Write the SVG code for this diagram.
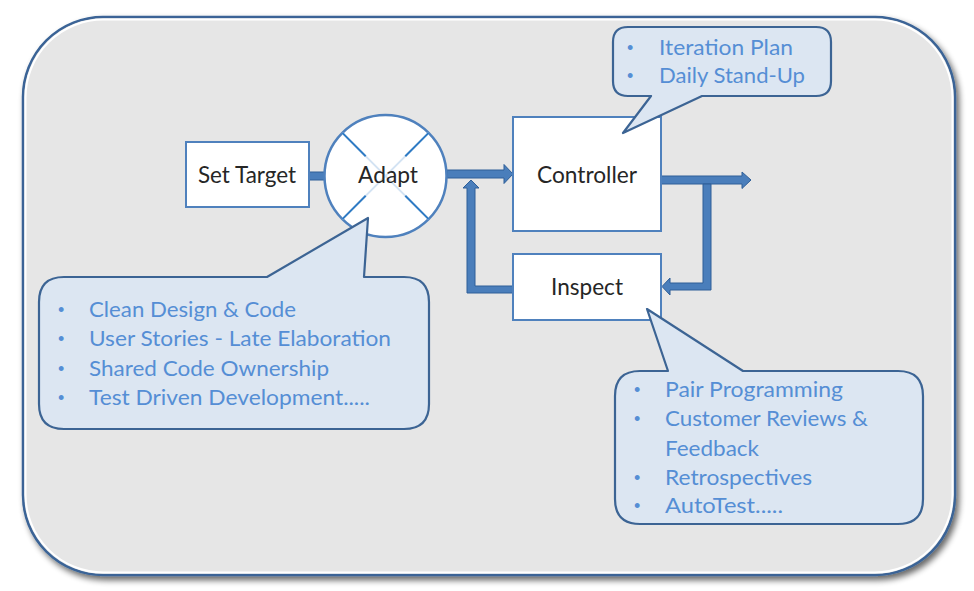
<svg xmlns="http://www.w3.org/2000/svg" width="974" height="591" viewBox="0 0 974 591">
<style>
.box{fill:#ffffff;stroke:#4f81bd;stroke-width:2}
.lbl{font-family:Lato,"Open Sans","Liberation Sans",sans-serif;font-size:23px;fill:#262626}
.call{fill:#dce6f2;stroke:#3c6494;stroke-width:2.2;stroke-linejoin:round}
.ct{font-family:Lato,"Open Sans","Liberation Sans",sans-serif;font-size:22px;fill:#558ed5}
.bl{font-family:"Liberation Sans",sans-serif;font-size:18px;fill:#558ed5}
.arr{fill:#4a7ebb;stroke:#2f5f98;stroke-width:1;stroke-linejoin:miter}
</style>
<defs>
<filter id="sh" x="-5%" y="-5%" width="110%" height="115%">
<feGaussianBlur in="SourceAlpha" stdDeviation="3"/>
<feOffset dx="3" dy="4"/>
<feComponentTransfer><feFuncA type="linear" slope="0.6"/></feComponentTransfer>
<feMerge><feMergeNode/><feMergeNode in="SourceGraphic"/></feMerge>
</filter>
</defs>
<rect width="974" height="591" fill="#ffffff"/>
<g id="background">
<rect x="23" y="17" width="932" height="558" rx="80" ry="80" fill="#e6e6e6" stroke="#3a6496" stroke-width="2.5" filter="url(#sh)"/>
<rect x="25.5" y="19.5" width="927" height="553" rx="78" ry="78" fill="none" stroke="#ffffff" stroke-width="2"/>
</g>
<g id="connectors">
<path class="arr" d="M309,172 H326 V180 H309 Z"/>
<path class="arr" d="M447,170 H504 V164.5 L513,174 L504,183.5 V178 H447 Z"/>
<path class="arr" d="M661,176 H742 V172 L751,180 L742,188.5 V184 H661 Z"/>
<path class="arr" d="M703,184 H711 V290 H670 V295 L662,286.5 L670,278 V283 H703 Z"/>
<path class="arr" d="M513,286 V293 H467 V188 H463 L471,180 L479,188 H475 V286 Z"/>
</g>
<g id="set-target">
<rect class="box" x="186" y="142" width="123" height="65"/>
<text class="lbl" x="198" y="183" textLength="98" lengthAdjust="spacingAndGlyphs">Set Target</text>
</g>
<g id="adapt">
<circle cx="385.5" cy="176" r="61" fill="#ffffff" stroke="#4f81bd" stroke-width="2.5"/>
<path d="M342.4,132.9 L428.6,219.1 M428.6,132.9 L342.4,219.1" stroke="#d3e3f3" stroke-width="2"/>
<path d="M342.4,132.9 L365.7,156.2 M428.6,132.9 L405.3,156.2 M342.4,219.1 L365.7,195.8 M428.6,219.1 L405.3,195.8" stroke="#2f7bc4" stroke-width="2"/>
<text class="lbl" x="358" y="183" textLength="60" lengthAdjust="spacingAndGlyphs">Adapt</text>
</g>
<g id="controller">
<rect class="box" x="513" y="117" width="148" height="114"/>
<text class="lbl" x="537" y="183" textLength="100" lengthAdjust="spacingAndGlyphs">Controller</text>
</g>
<g id="inspect">
<rect class="box" x="513" y="254" width="148" height="66"/>
<text class="lbl" x="551" y="295" textLength="72" lengthAdjust="spacingAndGlyphs">Inspect</text>
</g>
<g id="callout-controller">
<path class="call" d="M628,27 H816 Q831,27 831,42 V81 Q831,96 816,96 H702 L623,133 L651,96 H628 Q613,96 613,81 V42 Q613,27 628,27 Z"/>
<text class="bl" x="627" y="54">•</text>
<text class="ct" x="659" y="55" textLength="134" lengthAdjust="spacingAndGlyphs">Iteration Plan</text>
<text class="bl" x="627" y="82">•</text>
<text class="ct" x="659" y="83" textLength="146" lengthAdjust="spacingAndGlyphs">Daily Stand-Up</text>
</g>
<g id="callout-adapt">
<path class="call" d="M64,277 H267 L368,218 L364,277 H404 Q429,277 429,302 V404 Q429,429 404,429 H64 Q39,429 39,404 V302 Q39,277 64,277 Z"/>
<text class="bl" x="58" y="316">•</text>
<text class="ct" x="89" y="317" textLength="207" lengthAdjust="spacingAndGlyphs">Clean Design &amp; Code</text>
<text class="bl" x="58" y="345">•</text>
<text class="ct" x="89" y="346" textLength="302" lengthAdjust="spacingAndGlyphs">User Stories - Late Elaboration</text>
<text class="bl" x="58" y="375">•</text>
<text class="ct" x="89" y="376" textLength="240" lengthAdjust="spacingAndGlyphs">Shared Code Ownership</text>
<text class="bl" x="58" y="404">•</text>
<text class="ct" x="89" y="405" textLength="281" lengthAdjust="spacingAndGlyphs">Test Driven Development.....</text>
</g>
<g id="callout-inspect">
<path class="call" d="M640,371 H668 L647,309 L743,371 H898 Q923,371 923,396 V499 Q923,524 898,524 H640 Q615,524 615,499 V396 Q615,371 640,371 Z"/>
<text class="bl" x="634" y="396">•</text>
<text class="ct" x="665" y="397" textLength="178" lengthAdjust="spacingAndGlyphs">Pair Programming</text>
<text class="bl" x="634" y="425">•</text>
<text class="ct" x="665" y="426" textLength="203" lengthAdjust="spacingAndGlyphs">Customer Reviews &amp;</text>
<text class="ct" x="665" y="456" textLength="94" lengthAdjust="spacingAndGlyphs">Feedback</text>
<text class="bl" x="634" y="484">•</text>
<text class="ct" x="665" y="485" textLength="147" lengthAdjust="spacingAndGlyphs">Retrospectives</text>
<text class="bl" x="634" y="512">•</text>
<text class="ct" x="665" y="513" textLength="118" lengthAdjust="spacingAndGlyphs">AutoTest.....</text>
</g>
</svg>
